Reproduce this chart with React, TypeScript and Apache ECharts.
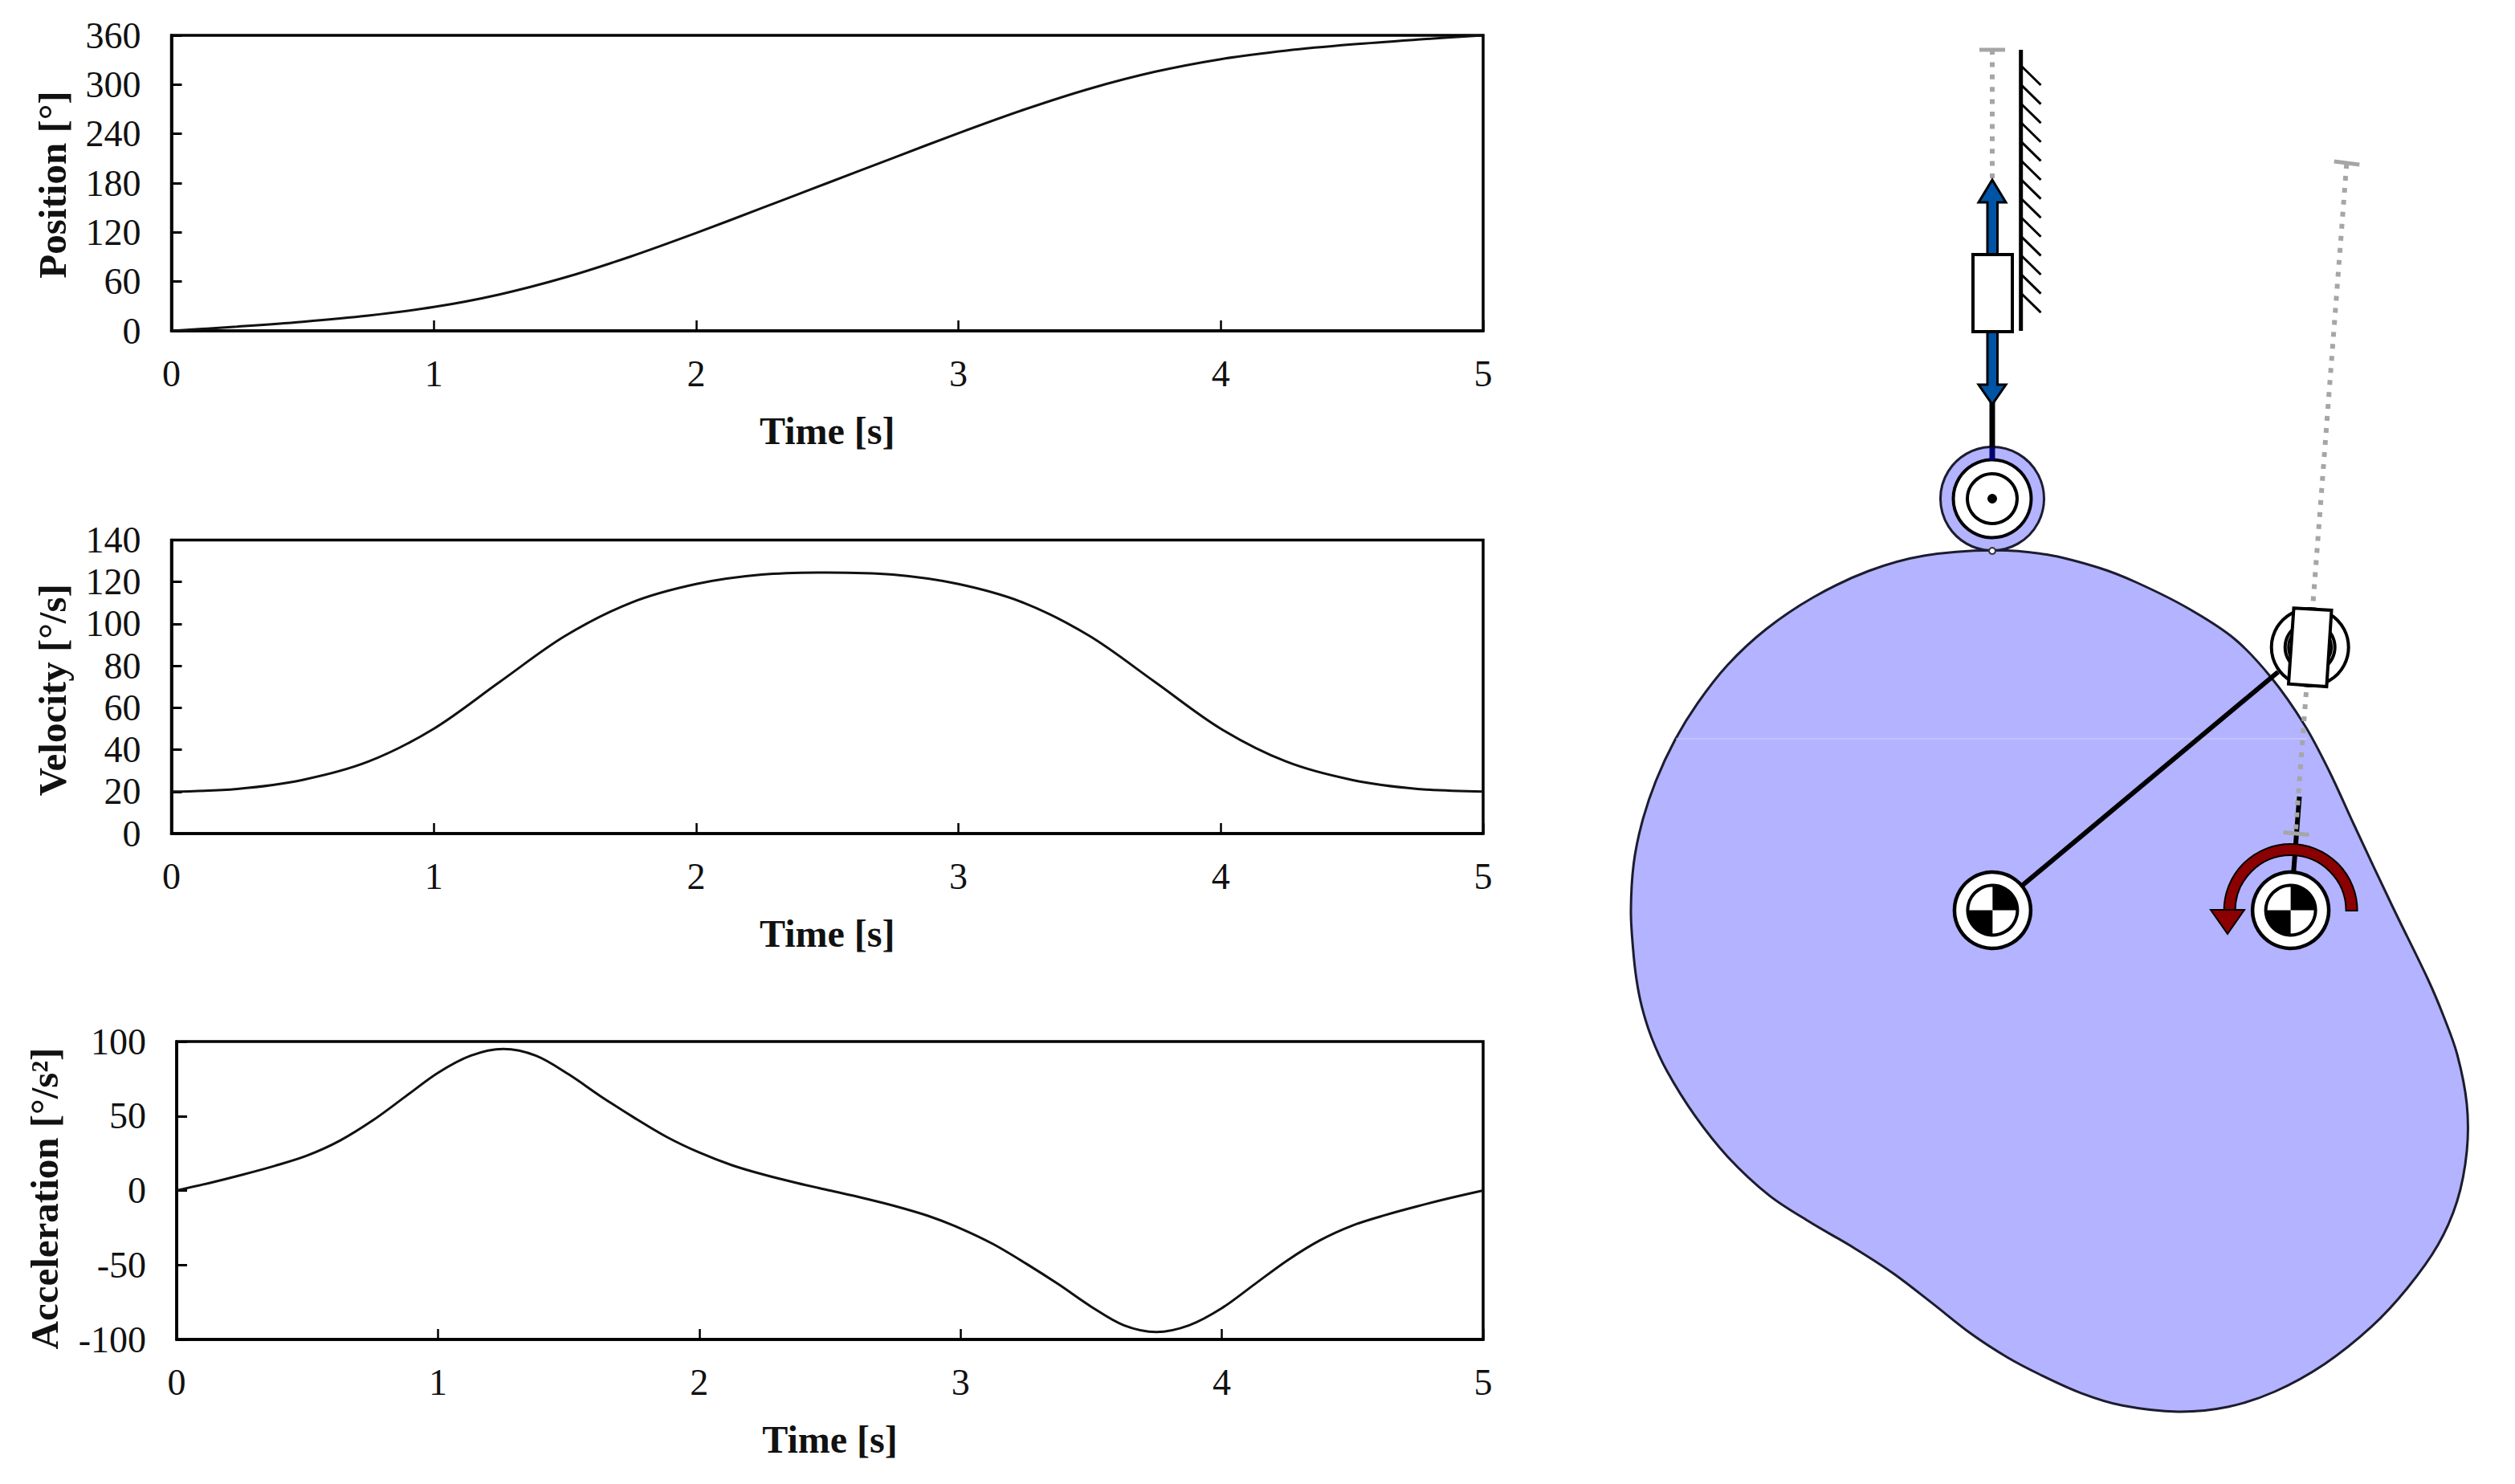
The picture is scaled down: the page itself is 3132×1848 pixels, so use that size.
import React, { useEffect, useRef } from "react";
import * as echarts from "echarts";

const timeValues = [0, 0.25, 0.5, 0.75, 1, 1.25, 1.5, 1.75, 2, 2.25, 2.5, 2.75, 3, 3.25, 3.5, 3.75, 4, 4.25, 4.5, 4.75, 5];
const positionValues = [0, 5.2, 11.1, 18.6, 29, 44.3, 65, 90.5, 119.2, 149.5, 180, 210.5, 240.8, 269.5, 295, 315.7, 331, 341.4, 348.9, 354.8, 360];
const velocityValues = [20, 21.3, 25.6, 34.3, 50, 72.2, 94.2, 110, 119, 123.5, 124.5, 123.5, 119, 110, 94.2, 72.2, 50, 34.3, 25.6, 21.3, 20];
const accelTimes = [
  0, 0.125, 0.25, 0.375, 0.5, 0.625, 0.75, 0.875, 1, 1.125, 1.25, 1.375, 1.5, 1.625, 1.75, 1.875, 2, 2.125, 2.25, 2.375, 2.5,
  2.625, 2.75, 2.875, 3, 3.125, 3.25, 3.375, 3.5, 3.625, 3.75, 3.875, 4, 4.125, 4.25, 4.375, 4.5, 4.625, 4.75, 4.875, 5,
];
const accelerationValues = [
  0, 5, 10.5, 16.5, 23.5, 33.5, 47, 63, 79, 90.5, 95, 90.5, 78, 63, 49, 36, 25.5, 17, 10.5, 5, 0,
  -5, -10.5, -17, -25.5, -36, -49, -63, -78, -90.5, -95, -90.5, -79, -63, -47, -33.5, -23.5, -16.5, -10.5, -5, 0,
];

const xTitle = "Time [s]";
const yTitles = ["Position [°]", "Velocity [°/s]", "Acceleration [°/s²]"];

const camOutline = [
  [2481, 685.2], [2548.7, 690.5], [2613.7, 707], [2660, 725], [2724, 757], [2782, 795], [2828, 843.3], [2870, 903],
  [2900.5, 960], [2931, 1026], [2980, 1130], [3023.8, 1220], [3042.8, 1264.8], [3060, 1313], [3072, 1375], [3072, 1433.5],
  [3060, 1495.5], [3035.9, 1550.6], [2998, 1604], [2953.2, 1652.2], [2894.7, 1698.7], [2832.7, 1733], [2774.2, 1752],
  [2712.2, 1757.9], [2643.3, 1750.3], [2591.7, 1734.8], [2540, 1711.5], [2499.3, 1690], [2454.5, 1660.8], [2406.3, 1622.9],
  [2358.1, 1586], [2309.9, 1554.7], [2251.4, 1520.3], [2203.2, 1488.6], [2151.5, 1440.4], [2110.2, 1388.7], [2075.8, 1333.6],
  [2056.8, 1292.3], [2044.8, 1254.4], [2038, 1220], [2033.5, 1179.3], [2031, 1134.5], [2034.4, 1076], [2044.8, 1024.4], [2062, 972.7],
  [2086.1, 921], [2113.6, 876.3], [2151.5, 828], [2199.7, 783.3], [2258.3, 743.7], [2327.1, 711], [2396, 692],
];

const FONT = "Liberation Serif";
const INK = "#111111";
const CAM = "#b3b3ff";
const GRAY = "#a6a6a6";
const BLUE = "#0054a6";
const RED = "#8b0000";

const line = (x1: number, y1: number, x2: number, y2: number, stroke: string, lineWidth: number, lineDash?: number[]) => ({
  type: "line", silent: true, shape: { x1, y1, x2, y2 }, style: { stroke, lineWidth, lineDash, lineCap: "butt" },
});
const circle = (cx: number, cy: number, r: number, fill: string, stroke: string, lineWidth: number) => ({
  type: "circle", silent: true, shape: { cx, cy, r }, style: { fill, stroke, lineWidth },
});
const poly = (points: number[][], fill: string, stroke: string, lineWidth: number) => ({
  type: "polygon", silent: true, shape: { points }, style: { fill, stroke, lineWidth, lineJoin: "miter" },
});
const quarter = (cx: number, cy: number, r: number, startAngle: number, fill: string) => ({
  type: "sector", silent: true, shape: { cx, cy, r0: 0, r, startAngle, endAngle: startAngle + Math.PI / 2, clockwise: true }, style: { fill },
});
const centreMark = (cx: number, cy: number) => [
  circle(cx, cy, 47.5, "#fff", "#000", 4.5),
  circle(cx, cy, 31, "#fff", "#000", 4),
  quarter(cx, cy, 31, -Math.PI / 2, "#000"),
  quarter(cx, cy, 31, Math.PI / 2, "#000"),
];

function diagram() {
  const els: any[] = [];
  els.push({
    type: "polygon", silent: true,
    shape: { points: camOutline, smooth: 0.33 },
    style: { fill: CAM, stroke: "#1c1c2e", lineWidth: 3 },
  });
  els.push(line(2087, 920, 2873, 920, "#d2d2ff", 1));

  // vertical follower
  els.push(line(2481, 62, 2481, 224, GRAY, 6, [6, 9.4]));
  els.push(line(2465, 62, 2497, 62, GRAY, 5));
  els.push(line(2516.7, 62, 2516.7, 412, "#000", 5));
  for (let i = 0; i < 13; i++) {
    const y = 83 + i * 23.6;
    els.push(line(2518, y, 2541.5, y + 23, "#000", 3));
  }
  els.push(circle(2481, 621, 64.5, CAM, "#1c1c2e", 3));
  els.push(circle(2481, 686, 4, "#fff", "#333", 2));
  els.push(circle(2481, 621, 48.5, "#fff", "#000", 4));
  els.push(circle(2481, 621, 31, "#fff", "#000", 4));
  els.push(circle(2481, 621, 5.5, "#000", "#000", 1));
  els.push(line(2481, 500, 2481, 557, "#000", 7));
  els.push(line(2481, 557, 2481, 573, "#00006e", 7));
  els.push(poly([[2475, 252], [2464, 252], [2481, 224], [2498, 252], [2487.5, 252], [2487.5, 317], [2475, 317]], BLUE, "#000", 3));
  els.push(poly([[2475, 413], [2487.5, 413], [2487.5, 479], [2498, 479], [2481, 503.5], [2464, 479], [2475, 479]], BLUE, "#000", 3));
  els.push({ type: "rect", silent: true, shape: { x: 2457, y: 317, width: 49, height: 96 }, style: { fill: "#fff", stroke: "#000", lineWidth: 4 } });

  // swing arm
  els.push(line(2481.4, 1133.5, 2837, 836.7, "#000", 6));
  els.push(...centreMark(2481.4, 1133.5));

  // rotating follower
  els.push(line(2852.6, 1133, 2863.5, 992, "#000", 6));
  els.push(line(2922.3, 204, 2858.5, 1038, GRAY, 6, [6, 9]));
  els.push(line(2906.7, 201, 2938.3, 205, GRAY, 5));
  els.push(line(2843.5, 1036.5, 2875.5, 1039.5, GRAY, 5));
  els.push(circle(2876.7, 806, 48, "#fff", "#000", 4));
  els.push(circle(2876.7, 806, 31, "#fff", "#000", 4));
  els.push(circle(2876.7, 806, 27, "#fff", "#000", 3));
  els.push(poly([[2856.5, 757.3], [2903.5, 760], [2897.4, 855], [2850, 851.7]], "#fff", "#000", 4));
  els.push(...centreMark(2852.6, 1133.5));

  // drive arrow
  els.push({
    type: "sector", silent: true,
    shape: { cx: 2852.6, cy: 1134, r0: 69, r: 83, startAngle: Math.PI, endAngle: Math.PI * 2, clockwise: true },
    style: { fill: RED, stroke: "#000", lineWidth: 2 },
  });
  els.push(poly([[2753, 1133], [2795, 1133], [2774, 1163]], RED, "#000", 2));
  return els;
}

const frame = [
  { left: 213.5, top: 44, right: 1847, bottom: 412, min: 0, max: 360, step: 60, gap: 124, shift: 4, xs: timeValues, ys: positionValues },
  { left: 213.5, top: 672.5, right: 1847, bottom: 1038, min: 0, max: 140, step: 20, gap: 124, shift: 8, xs: timeValues, ys: velocityValues },
  { left: 220, top: 1297, right: 1847, bottom: 1668, min: -100, max: 100, step: 50, gap: 140, shift: 20, xs: accelTimes, ys: accelerationValues },
];

export default function App() {
  const ref = useRef<HTMLDivElement>(null);
  useEffect(() => {
    document.body.style.margin = "0";
    const chart = echarts.init(ref.current!, undefined, { renderer: "svg" });
    chart.setOption({
      animation: false,
      backgroundColor: "#fff",
      grid: frame.map((f) => ({
        left: f.left, top: f.top, width: f.right - f.left, height: f.bottom - f.top,
        show: true, borderColor: "#000", borderWidth: 3.5, backgroundColor: "transparent", containLabel: false,
      })),
      xAxis: frame.map((f, i) => ({
        type: "value", gridIndex: i, min: 0, max: 5, interval: 1,
        name: xTitle, nameLocation: "middle", nameGap: 100,
        nameTextStyle: { fontFamily: FONT, fontSize: 48, fontWeight: "bold", color: INK },
        axisLine: { show: true, onZero: false, lineStyle: { color: "#000", width: 3.5 } },
        axisTick: { show: true, inside: true, length: 13, lineStyle: { color: "#000", width: 2.5 } },
        axisLabel: { fontFamily: FONT, fontSize: 46, color: INK, margin: 30 },
        splitLine: { show: false },
      })),
      yAxis: frame.map((f, i) => ({
        type: "value", gridIndex: i, min: f.min, max: f.max, interval: f.step,
        name: yTitles[i], nameLocation: "middle", nameGap: f.gap,
        nameTextStyle: { fontFamily: FONT, fontSize: 49, fontWeight: "bold", color: INK, padding: [0, f.shift, 0, 0] },
        axisLine: { show: true, onZero: false, lineStyle: { color: "#000", width: 3.5 } },
        axisTick: { show: true, inside: true, length: 13, lineStyle: { color: "#000", width: 3 } },
        axisLabel: { fontFamily: FONT, fontSize: 46, color: INK, margin: 38 },
        splitLine: { show: false },
      })),
      series: frame.map((f, i) => ({
        type: "line", xAxisIndex: i, yAxisIndex: i, showSymbol: false, smooth: 0.33,
        data: f.xs.map((x, k) => [x, f.ys[k]]),
        lineStyle: { color: "#111", width: 3 }, clip: false,
      })),
      graphic: { elements: diagram() },
    });
    return () => chart.dispose();
  }, []);
  return <div ref={ref} style={{ position: "absolute", left: 0, top: 0, width: 3132, height: 1848 }} />;
}
